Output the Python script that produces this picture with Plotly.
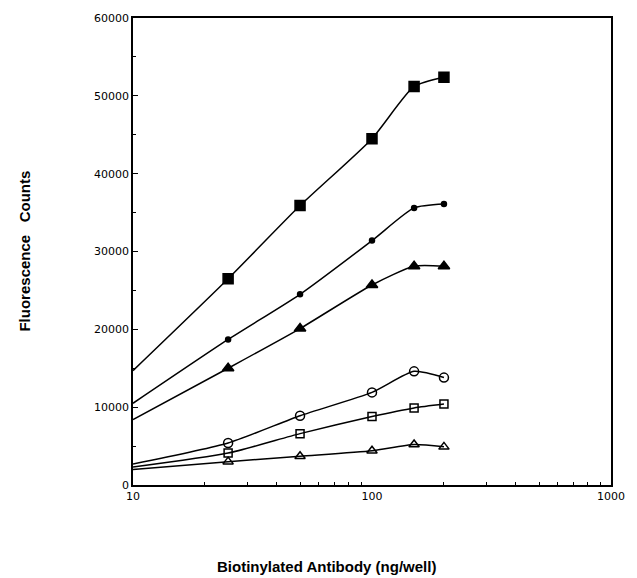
import plotly.graph_objects as go

# ---- data ----
doses = [10, 25, 50, 100, 150, 200]
series_filled_square = [14700, 26500, 35900, 44500, 51200, 52400]
series_filled_circle = [10500, 18700, 24500, 31400, 35600, 36100]
series_filled_triangle = [8400, 15000, 20100, 25700, 28100, 28100]
series_open_circle = [2700, 5400, 8900, 11900, 14600, 13800]
series_open_square = [2300, 4100, 6600, 8800, 9900, 10400]
series_open_triangle = [2000, 3000, 3700, 4400, 5200, 4900]

y_tickvals = [0, 10000, 20000, 30000, 40000, 50000, 60000]
y_ticktext = ["0", "10000", "20000", "30000", "40000", "50000", "60000"]
x_tickvals = [10, 100, 1000]
x_ticktext = ["10", "100", "1000"]

styles = [
    (series_filled_square, "square", 10),
    (series_filled_circle, "circle", 5),
    (series_filled_triangle, "triangle-up", 10),
    (series_open_circle, "circle-open", 9),
    (series_open_square, "square-open", 8),
    (series_open_triangle, "triangle-up-open", 9),
]

fig = go.Figure()
for ys, sym, size in styles:
    fig.add_trace(go.Scatter(
        x=doses, y=ys, mode="lines",
        line=dict(color="black", width=1.5, shape="spline", smoothing=0.6),
        showlegend=False, hoverinfo="skip"))
    fig.add_trace(go.Scatter(
        x=doses[1:], y=ys[1:], mode="markers",
        marker=dict(symbol=sym, size=size, color="black",
                    line=dict(color="black", width=1.5)),
        showlegend=False))

fig.update_layout(
    width=637, height=578,
    margin=dict(l=133, r=17, t=13, b=93),
    paper_bgcolor="white", plot_bgcolor="white",
    font=dict(family="DejaVu Sans", size=11, color="black"),
    xaxis=dict(
        type="log", range=[1, 3],
        tickvals=x_tickvals, ticktext=x_ticktext,
        ticks="", showgrid=False, zeroline=False,
        showline=True, linecolor="black", linewidth=1.5, mirror=True,
        tickfont=dict(size=11),
        minor=dict(ticks="inside", ticklen=3, tickcolor="black",
                   tickvals=[20, 30, 40, 50, 60, 70, 80, 90,
                             200, 300, 400, 500, 600, 700, 800, 900]),
    ),
    yaxis=dict(
        range=[0, 60000],
        tickvals=y_tickvals, ticktext=y_ticktext,
        ticks="inside", ticklen=5, tickcolor="black",
        showgrid=False, zeroline=False,
        showline=True, linecolor="black", linewidth=1.5, mirror=True,
        tickfont=dict(size=11),
        minor=dict(ticks="inside", ticklen=3, tickcolor="black", dtick=5000),
    ),
    annotations=[
        dict(text="<b>Fluorescence\u00a0\u00a0 Counts</b>", textangle=-90,
             xref="paper", yref="paper", x=(22 - 133) / 487, y=0.5,
             xanchor="center", yanchor="middle", showarrow=False,
             font=dict(family="Liberation Sans", size=15, color="black")),
        dict(text="<b>Biotinylated Antibody (ng/well)</b>",
             xref="paper", yref="paper", x=(330 - 133) / 487,
             y=-(567 - 485) / 472,
             xanchor="center", yanchor="middle", showarrow=False,
             font=dict(family="Liberation Sans", size=15, color="black")),
    ],
)

fig.write_html("out.html")
